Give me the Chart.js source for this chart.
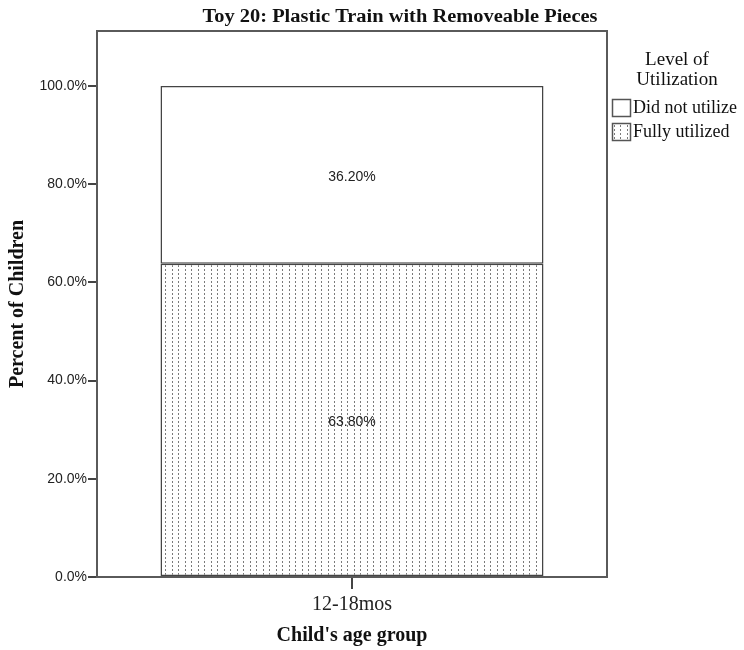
<!DOCTYPE html>
<html>
<head>
<meta charset="utf-8">
<script src="https://cdn.jsdelivr.net/npm/chart.js@4"></script>
<style>
  html, body { margin: 0; padding: 0; background: #fff; }
  #wrap { width: 744px; height: 650px; }
</style>
</head>
<body>
<div id="wrap"><canvas id="toyChart" width="744" height="650"></canvas></div>
<script>
const categories = ["12-18mos"];
const fullyUtilized = [63.8];
const didNotUtilize = [36.2];
const yTicks = [0, 20, 40, 60, 80, 100];
const chartTitle = "Toy 20: Plastic Train with Removeable Pieces";
const legendTitle = ["Level of", "Utilization"];

const serif = "'Liberation Serif', 'Times New Roman', serif";
const sans = "'Liberation Sans', Arial, sans-serif";

// dotted fill like the SPSS pattern
function makeDots() {
  const c = document.createElement("canvas");
  c.width = 13;
  c.height = 4;
  const g = c.getContext("2d");
  g.fillStyle = "#fff";
  g.fillRect(0, 0, 13, 4);
  g.fillStyle = "#7a7a7a";
  g.fillRect(3, 1, 1, 2);
  g.fillRect(9, 1, 1, 2);
  return g.createPattern(c, "repeat");
}
const dots = makeDots();

const framePlugin = {
  id: "frame",
  afterDatasetsDraw(chart) {
    const { ctx, chartArea } = chart;
    ctx.save();
    ctx.strokeStyle = "#5a5a5a";
    ctx.lineWidth = 2;
    ctx.strokeRect(chartArea.left, chartArea.top, chartArea.right - chartArea.left, chartArea.bottom - chartArea.top);

    // title, stretched a little to the reference width
    ctx.fillStyle = "#111";
    ctx.font = "bold 18px " + serif;
    ctx.textAlign = "center";
    ctx.textBaseline = "middle";
    const tw = ctx.measureText(chartTitle).width;
    ctx.save();
    ctx.translate(400, 17);
    ctx.scale(395 / tw, 1);
    ctx.fillText(chartTitle, 0, 0);
    ctx.restore();

    // value labels in the bar segments
    ctx.fillStyle = "#222";
    ctx.font = "14px " + sans;
    chart.data.datasets.forEach((ds, i) => {
      chart.getDatasetMeta(i).data.forEach((bar, j) => {
        const mid = (bar.y + bar.base) / 2 + 2;
        ctx.fillText(ds.data[j].toFixed(2) + "%", bar.x, mid);
      });
    });

    // legend
    const lx = 677;
    ctx.font = "19px " + serif;
    ctx.fillStyle = "#111";
    ctx.fillText(legendTitle[0], lx, 60);
    ctx.fillText(legendTitle[1], lx, 80);
    const items = [
      { label: chart.data.datasets[1].label, fill: "#fff", y: 99 },
      { label: chart.data.datasets[0].label, fill: dots, y: 123 }
    ];
    ctx.font = "18px " + serif;
    items.forEach((it) => {
      ctx.fillStyle = it.fill;
      ctx.fillRect(612, it.y, 18, 17);
      ctx.strokeStyle = "#555";
      ctx.lineWidth = 1.5;
      ctx.strokeRect(612.5, it.y + 0.5, 18, 17);
      ctx.fillStyle = "#111";
      ctx.textAlign = "left";
      ctx.fillText(it.label, 633, it.y + 9);
    });
    ctx.restore();
  }
};

new Chart(document.getElementById("toyChart"), {
  type: "bar",
  data: {
    labels: categories,
    datasets: [
      {
        label: "Fully utilized",
        data: fullyUtilized,
        backgroundColor: dots,
        borderColor: "#444",
        borderWidth: 1.5,
        borderSkipped: false
      },
      {
        label: "Did not utilize",
        data: didNotUtilize,
        backgroundColor: "#fff",
        borderColor: "#444",
        borderWidth: 1.5,
        borderSkipped: false
      }
    ]
  },
  options: {
    responsive: false,
    animation: false,
    layout: { padding: { top: 31, right: 137, left: 0, bottom: 0 } },
    datasets: { bar: { barPercentage: 0.751, categoryPercentage: 1 } },
    plugins: {
      legend: { display: false },
      tooltip: { enabled: false },
      title: { display: false }
    },
    scales: {
      x: {
        stacked: true,
        grid: { offset: false, drawOnChartArea: false, drawTicks: true, tickLength: 12, color: "#444", lineWidth: 2 },
        border: { display: false },
        ticks: { font: { family: serif, size: 20 }, color: "#222", padding: 4 },
        title: {
          display: true,
          text: "Child's age group",
          font: { family: serif, size: 20, weight: "bold" },
          color: "#111",
          padding: { top: 0, bottom: 2 }
        },
        afterFit(scale) { scale.height = 73; }
      },
      y: {
        stacked: true,
        min: 0,
        max: 111.2,
        grid: { drawOnChartArea: false, drawTicks: true, tickLength: 9, color: "#444", lineWidth: 2 },
        border: { display: false },
        afterBuildTicks(scale) { scale.ticks = yTicks.map((v) => ({ value: v })); },
        ticks: {
          includeBounds: false,
          font: { family: sans, size: 14 },
          color: "#222",
          padding: 1,
          callback: (v) => v.toFixed(1) + "%"
        },
        title: {
          display: true,
          text: "Percent of Children",
          font: { family: serif, size: 20, weight: "bold" },
          color: "#111",
          padding: { top: 6, bottom: 0 }
        },
        afterFit(scale) { scale.width = 97; }
      }
    }
  },
  plugins: [framePlugin]
});
</script>
</body>
</html>
